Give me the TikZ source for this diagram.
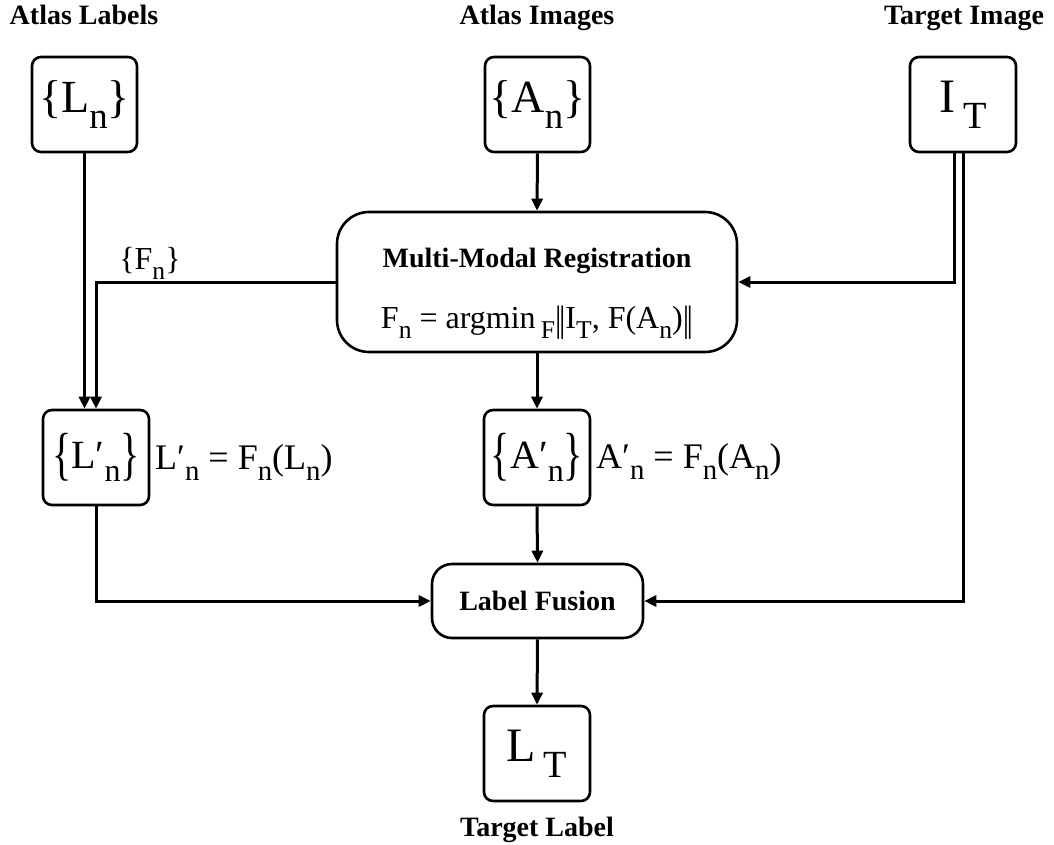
\documentclass[tikz,border=0pt]{standalone}
\usepackage{fontspec}
\setmainfont{Liberation Serif}
\usetikzlibrary{arrows.meta}
\newcommand\sbs[1]{\raisebox{-0.33em}{\scalebox{0.8}{#1}}}
\newcommand\tallbr[1]{\raisebox{-0.12em}{\scalebox{1}[1.45]{#1}}}
\newcommand\nrm{\raisebox{-0.1em}{\scalebox{1}[1.15]{|\kern-0.08em|}}}
\begin{document}
\begin{tikzpicture}[x=1pt,y=-1pt,
  box/.style={draw,line width=2.6pt,rounded corners=9pt,inner sep=0pt},
  ttl/.style={font=\fontsize{28}{30}\selectfont\bfseries,inner sep=0pt,anchor=base},
  conn/.style={line width=3pt},
  arr/.style={conn,-{Triangle[length=12pt,width=11pt]}}]
\useasboundingbox (0,0) rectangle (1054,845);
% titles
\node[ttl] (tAL) at (84,25) {Atlas Labels};
\node[ttl] (tAI) at (537,25) {Atlas Images};
\node[ttl] (tTI) at (964,25) {Target Image};
\node[ttl] (tTL) at (537,836) {Target Label};
% top boxes
\node[box,minimum width=105pt,minimum height=95pt,font=\fontsize{46}{48}\selectfont] (Ln) at (84.5,104.5) {\{L\sbs{n}\}};
\node[box,minimum width=105pt,minimum height=95pt,font=\fontsize{46}{48}\selectfont] (An) at (537.5,104.5) {\{A\sbs{n}\}};
\node[box,minimum width=106pt,minimum height=95pt,font=\fontsize{48}{50}\selectfont] (IT) at (963,104.5) {I\,\sbs{T}};
% registration
\node[box,rounded corners=32pt,minimum width=400pt,minimum height=140pt] (MMR) at (537,282) {};
\node[ttl] (mmrt) at (537,267) {Multi-Modal Registration};
\node[inner sep=0pt,anchor=base,font=\fontsize{32}{34}\selectfont] (mmrf) at (537,328) {F\sbs{n} = argmin\,\sbs{F}\nrm I\sbs{T}, F(A\sbs{n})\nrm};
% warped
\node[box,minimum width=106pt,minimum height=95pt,font=\fontsize{40}{42}\selectfont] (Lp) at (96,457.5) {\tallbr{\{}L′\sbs{n}\tallbr{\}}};
\node[box,minimum width=106pt,minimum height=95pt,font=\fontsize{40}{42}\selectfont] (Ap) at (537,457.5) {\tallbr{\{}A′\sbs{n}\tallbr{\}}};
\node[anchor=base west,inner sep=0pt,font=\fontsize{36}{38}\selectfont] (Lpf) at (155,469) {L′\sbs{n} = F\sbs{n}(L\sbs{n})};
\node[anchor=base west,inner sep=0pt,font=\fontsize{36}{38}\selectfont] (Apf) at (596,468) {A′\sbs{n} = F\sbs{n}(A\sbs{n})};
% fusion and result
\node[box,rounded corners=20pt,minimum width=211pt,minimum height=74pt,font=\fontsize{28}{30}\selectfont\bfseries] (LF) at (537.5,601) {Label Fusion};
\node[box,minimum width=106pt,minimum height=95pt,font=\fontsize{48}{50}\selectfont] (LT) at (537,753.5) {L\,\sbs{T}};
% label of F_n
\node[inner sep=0pt,anchor=base,font=\fontsize{32}{34}\selectfont] (Fn) at (150,269) {\{F\sbs{n}\}};
% connectors
\draw[arr] (Ln.south) -- (Ln.south |- Lp.north);
\draw[arr] (MMR.west) -| (Lp.north);
\draw[arr] (An.south) -- (MMR.north);
\draw[arr] ([xshift=-9pt]IT.south) |- (MMR.east);
\draw[arr] (IT.south) |- (LF.east);
\draw[arr] (MMR.south) -- (Ap.north);
\draw[arr] (Ap.south) -- (LF.north);
\draw[arr] (Lp.south) |- (LF.west);
\draw[arr] (LF.south) -- (LT.north);
\end{tikzpicture}
\end{document}
